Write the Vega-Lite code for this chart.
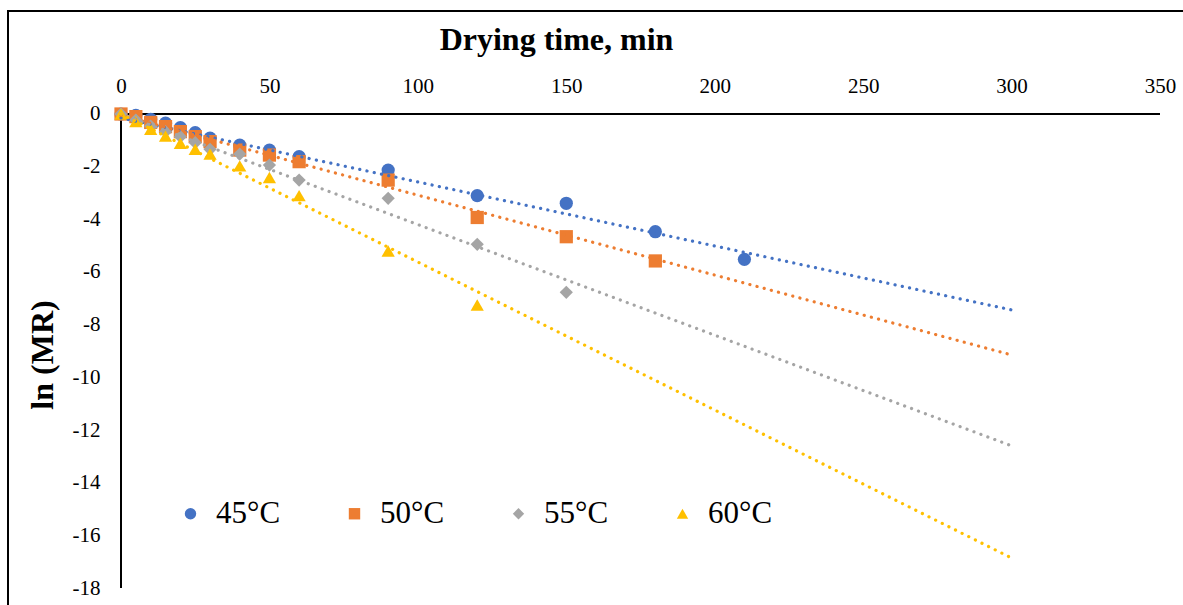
{
  "$schema": "https://vega.github.io/schema/vega-lite/v6.json",
  "autosize": {"type": "none"},
  "padding": {"left": 8, "top": 11, "right": 0, "bottom": 0},
  "width": 1185,
  "height": 600,
  "background": "white",
  "config": {
    "view": {"stroke": "#000000", "strokeWidth": 2},
    "font": "Liberation Serif"
  },
  "datasets": {
    "axes": [
      {"t": 0, "v": 0, "t2": 350, "v2": 0},
      {"t": 0, "v": 0, "t2": 0, "v2": -18}
    ],
    "trend": [
      {"series": "45°C", "t": 0, "v": -0.15},
      {"series": "45°C", "t": 300, "v": -7.44},
      {"series": "50°C", "t": 0, "v": -0.05},
      {"series": "50°C", "t": 300, "v": -9.15},
      {"series": "55°C", "t": 0, "v": 0},
      {"series": "55°C", "t": 300, "v": -12.6},
      {"series": "60°C", "t": 0, "v": 0},
      {"series": "60°C", "t": 300, "v": -16.86}
    ],
    "obs": [
      {"series": "45°C", "t": 0, "v": 0},
      {"series": "45°C", "t": 5, "v": -0.05},
      {"series": "45°C", "t": 10, "v": -0.2},
      {"series": "45°C", "t": 15, "v": -0.35},
      {"series": "45°C", "t": 20, "v": -0.52},
      {"series": "45°C", "t": 25, "v": -0.71},
      {"series": "45°C", "t": 30, "v": -0.92},
      {"series": "45°C", "t": 40, "v": -1.18},
      {"series": "45°C", "t": 50, "v": -1.37},
      {"series": "45°C", "t": 60, "v": -1.62},
      {"series": "45°C", "t": 90, "v": -2.13},
      {"series": "45°C", "t": 120, "v": -3.1},
      {"series": "45°C", "t": 150, "v": -3.39},
      {"series": "45°C", "t": 180, "v": -4.47},
      {"series": "45°C", "t": 210, "v": -5.52},
      {"series": "50°C", "t": 0, "v": 0},
      {"series": "50°C", "t": 5, "v": -0.1},
      {"series": "50°C", "t": 10, "v": -0.32},
      {"series": "50°C", "t": 15, "v": -0.48},
      {"series": "50°C", "t": 20, "v": -0.67},
      {"series": "50°C", "t": 25, "v": -0.86},
      {"series": "50°C", "t": 30, "v": -1.05},
      {"series": "50°C", "t": 40, "v": -1.37},
      {"series": "50°C", "t": 50, "v": -1.56},
      {"series": "50°C", "t": 60, "v": -1.81},
      {"series": "50°C", "t": 90, "v": -2.51},
      {"series": "50°C", "t": 120, "v": -3.93},
      {"series": "50°C", "t": 150, "v": -4.66},
      {"series": "50°C", "t": 180, "v": -5.58},
      {"series": "55°C", "t": 0, "v": 0},
      {"series": "55°C", "t": 5, "v": -0.23},
      {"series": "55°C", "t": 10, "v": -0.46},
      {"series": "55°C", "t": 15, "v": -0.67},
      {"series": "55°C", "t": 20, "v": -0.86},
      {"series": "55°C", "t": 25, "v": -1.09},
      {"series": "55°C", "t": 30, "v": -1.34},
      {"series": "55°C", "t": 40, "v": -1.52},
      {"series": "55°C", "t": 50, "v": -1.94},
      {"series": "55°C", "t": 60, "v": -2.51},
      {"series": "55°C", "t": 90, "v": -3.2},
      {"series": "55°C", "t": 120, "v": -4.95},
      {"series": "55°C", "t": 150, "v": -6.77},
      {"series": "60°C", "t": 0, "v": 0},
      {"series": "60°C", "t": 5, "v": -0.29},
      {"series": "60°C", "t": 10, "v": -0.58},
      {"series": "60°C", "t": 15, "v": -0.84},
      {"series": "60°C", "t": 20, "v": -1.11},
      {"series": "60°C", "t": 25, "v": -1.34},
      {"series": "60°C", "t": 30, "v": -1.52},
      {"series": "60°C", "t": 40, "v": -1.97},
      {"series": "60°C", "t": 50, "v": -2.41},
      {"series": "60°C", "t": 60, "v": -3.1},
      {"series": "60°C", "t": 90, "v": -5.2},
      {"series": "60°C", "t": 120, "v": -7.25}
    ]
  },
  "encoding": {
    "x": {
      "field": "t",
      "type": "quantitative",
      "scale": {"domain": [-38.066, 361.117], "nice": false, "zero": false},
      "axis": {
        "orient": "top",
        "offset": -103,
        "values": [0, 50, 100, 150, 200, 250, 300, 350],
        "domain": false,
        "ticks": false,
        "tickSize": 0,
        "grid": false,
        "labelOverlap": false,
        "labelFlush": false,
        "labelFont": "Liberation Serif",
        "labelFontSize": 21,
        "labelColor": "#000000",
        "labelBaseline": "middle",
        "labelPadding": 28,
        "title": "Drying time, min",
        "titleFont": "Liberation Serif",
        "titleFontSize": 32,
        "titleFontWeight": "bold",
        "titleColor": "#000000",
        "titleBaseline": "middle",
        "titleX": 548,
        "titleY": -75
      }
    },
    "y": {
      "field": "v",
      "type": "quantitative",
      "scale": {"domain": [-18.873, 3.911], "nice": false, "zero": false},
      "axis": {
        "orient": "left",
        "offset": -113,
        "values": [0, -2, -4, -6, -8, -10, -12, -14, -16, -18],
        "labelExpr": "'' + datum.value",
        "domain": false,
        "ticks": false,
        "tickSize": 0,
        "grid": false,
        "labelOverlap": false,
        "labelFlush": false,
        "labelFont": "Liberation Serif",
        "labelFontSize": 21,
        "labelColor": "#000000",
        "labelPadding": 21,
        "title": "ln (MR)",
        "titleFont": "Liberation Serif",
        "titleFontSize": 32,
        "titleFontWeight": "bold",
        "titleColor": "#000000",
        "titleAngle": -90,
        "titleBaseline": "middle",
        "titleX": -79,
        "titleY": 343.5
      }
    }
  },
  "layer": [
    {
      "data": {"name": "axes"},
      "mark": {"type": "rule", "color": "#000000", "strokeWidth": 2},
      "encoding": {
        "x2": {"field": "t2"},
        "y2": {"field": "v2"}
      }
    },
    {
      "data": {"name": "obs"},
      "mark": {"type": "point", "filled": true, "size": 175, "opacity": 1, "strokeWidth": 0},
      "encoding": {
        "color": {
          "field": "series",
          "type": "nominal",
          "scale": {"domain": ["45°C", "50°C", "55°C", "60°C"], "range": ["#4472C4", "#ED7D31", "#A5A5A5", "#FFC000"]},
          "legend": {
            "orient": "none",
            "legendX": 167,
            "legendY": 487,
            "direction": "horizontal",
            "title": null,
            "padding": 0,
            "labelFont": "Liberation Serif",
            "labelFontSize": 31,
            "labelColor": "#000000",
            "labelOffset": 10,
            "columnPadding": 58,
            "symbolSize": 130,
            "symbolStrokeWidth": 0,
            "symbolOpacity": 1
          }
        },
        "shape": {
          "field": "series",
          "type": "nominal",
          "scale": {"domain": ["45°C", "50°C", "55°C", "60°C"], "range": ["circle", "square", "diamond", "triangle-up"]}
        }
      }
    },
    {
      "data": {"name": "trend"},
      "mark": {"type": "line", "strokeDash": [0.1, 7.3], "strokeCap": "round", "strokeWidth": 3.2},
      "encoding": {
        "color": {"field": "series", "type": "nominal", "legend": null}
      }
    }
  ]
}
